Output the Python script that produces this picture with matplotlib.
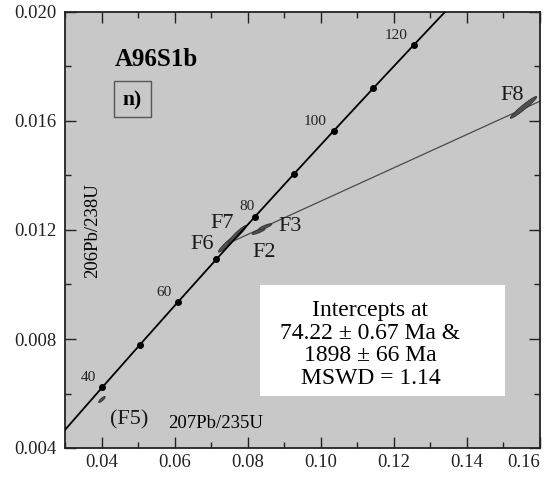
import numpy as np
import matplotlib
matplotlib.use("Agg")
import matplotlib.pyplot as plt
from matplotlib.patches import Rectangle, Polygon
from matplotlib.ticker import MultipleLocator

plt.rcParams['font.family'] = ['Liberation Serif', 'DejaVu Serif']

# Concordia reference points (age in Ma and the matching isotope ratios)
conc_age = [30, 40, 50, 60, 70, 80, 90, 100, 110, 120, 130]
conc_x = [0.02999, 0.04018, 0.05048, 0.06087, 0.07137, 0.08198, 0.09268,
          0.10350, 0.11442, 0.12545, 0.13659]
conc_y = [0.004664, 0.006224, 0.007786, 0.009351, 0.010918, 0.012487,
          0.014059, 0.015633, 0.017210, 0.018789, 0.020371]
# labelled ages and their text offsets (points)
conc_labels = {40: (-4.7, 2.2), 60: (-4.7, 2.2), 80: (-0.5, 3.0),
               100: (-4.7, 2.2), 120: (-4.7, 2.2)}

# Discordia through lower and upper intercepts
intercept_age = [74.22, 1898]
intercept_x = [0.07583, 5.48341]
intercept_y = [0.011580, 0.342361]

# Analyses: 207Pb/235U, 206Pb/238U, half-extent x, half-extent y, correlation
spot_names = ["F5", "F6", "F7", "F2", "F3", "F8"]
spot_x = [0.0401, 0.0745, 0.0772, 0.0830, 0.0848, 0.1555]
spot_y = [0.00578, 0.01150, 0.01185, 0.01195, 0.01212, 0.01650]
spot_hx = [0.0009, 0.0025, 0.0025, 0.0018, 0.0018, 0.0036]
spot_hy = [0.00011, 0.00031, 0.00032, 0.00011, 0.00011, 0.00040]
spot_rho = [0.84, 0.945, 0.945, 0.85, 0.85, 0.965]

fig = plt.figure(figsize=(5.47, 4.79), dpi=100)
ax = fig.add_axes([65 / 547, 1 - 448 / 479, 475 / 547, 436 / 479])
ax.set_facecolor("#c8c8c8")
ax.set_xlim(0.03, 0.16)
ax.set_ylim(0.004, 0.020)

# discordia line
ax.plot(intercept_x, intercept_y, color="#4a4a4a", lw=0.9, zorder=2)

# error ellipses
t = np.linspace(0, 2 * np.pi, 120)
for cx, cy, hx, hy, r in zip(spot_x, spot_y, spot_hx, spot_hy, spot_rho):
    ex = cx + hx * np.cos(t)
    ey = cy + hy * (r * np.cos(t) + np.sqrt(1 - r * r) * np.sin(t))
    ax.add_patch(Polygon(np.column_stack([ex, ey]), closed=True,
                         facecolor="#505050", edgecolor="#303030", lw=0.6, zorder=3))

# concordia curve with age marks
ax.plot(conc_x, conc_y, color="black", lw=1.3, zorder=4)
ax.plot(conc_x[1:-1], conc_y[1:-1], "o", color="black", ms=4, zorder=5)
for age, x, y in zip(conc_age, conc_x, conc_y):
    if age in conc_labels:
        ax.annotate(str(age), (x, y), xytext=conc_labels[age], textcoords="offset points",
                    ha="right", va="bottom", fontsize=11, color="#222222", zorder=6)

# spot labels
label_pos = {"F7": (0.0731, 0.01224), "F6": (0.0674, 0.01145), "F2": (0.0845, 0.01117),
             "F3": (0.0915, 0.01213), "F8": (0.1524, 0.01694), "(F5)": (0.0477, 0.00502)}
for txt, (x, y) in label_pos.items():
    ax.text(x, y, txt, fontsize=16, ha="center", va="center", color="#1a1a1a", zorder=6)

# sample name and panel tag
ax.text(0.0549, 0.018275, "A96S1b", fontsize=18, fontweight="bold",
        ha="center", va="center", zorder=6)
ax.add_patch(Rectangle((0.04341, 0.016147), 0.01013, 0.00132, facecolor="none",
                       edgecolor="#555555", lw=1.0, zorder=6))
ax.text(0.04834, 0.01677, "n)", fontsize=15.5, fontweight="bold",
        ha="center", va="center", zorder=7)

# axis labels inside the frame
ax.text(0.0711, 0.00490, "207Pb/235U", fontsize=13.5, ha="center", va="center", zorder=6)
ax.text(0.0376, 0.01198, "206Pb/238U", fontsize=13.5, rotation=90,
        ha="center", va="center", zorder=6)

# result box
ax.add_patch(Rectangle((0.08337, 0.005908), 0.06705, 0.004074, facecolor="white",
                       edgecolor="none", zorder=6))
box_lines = ["Intercepts at", "74.22 \u00b1 0.67 Ma &", "1898 \u00b1 66 Ma", "MSWD = 1.14"]
for i, line in enumerate(box_lines):
    ax.text(0.1136, 0.00905 - i * 0.000835, line, fontsize=17, ha="center",
            va="center", zorder=7)

# ticks
ax.xaxis.set_minor_locator(MultipleLocator(0.01))
ax.yaxis.set_minor_locator(MultipleLocator(0.002))
xt = [0.04, 0.06, 0.08, 0.10, 0.12, 0.14, 0.16]
yt = [0.004, 0.008, 0.012, 0.016, 0.020]
ax.set_xticks(xt)
ax.set_xticklabels([f"{v:.2f}" for v in xt])
ax.set_yticks(yt)
ax.set_yticklabels([f"{v:.3f}" for v in yt])
ax.tick_params(which="both", direction="in", top=True, right=True,
               labelsize=13.5, colors="#222222")
ax.tick_params(which="major", length=8, width=1.0)
ax.tick_params(axis="x", which="major", pad=4)
ax.tick_params(axis="y", which="major", pad=6)
ax.tick_params(which="minor", length=4, width=1.0)
ax.get_xticklabels()[-1].set_horizontalalignment("right")
for s in ax.spines.values():
    s.set_linewidth(1.3)
    s.set_color("#222222")

fig.savefig("out.png", dpi=100, facecolor="white")
